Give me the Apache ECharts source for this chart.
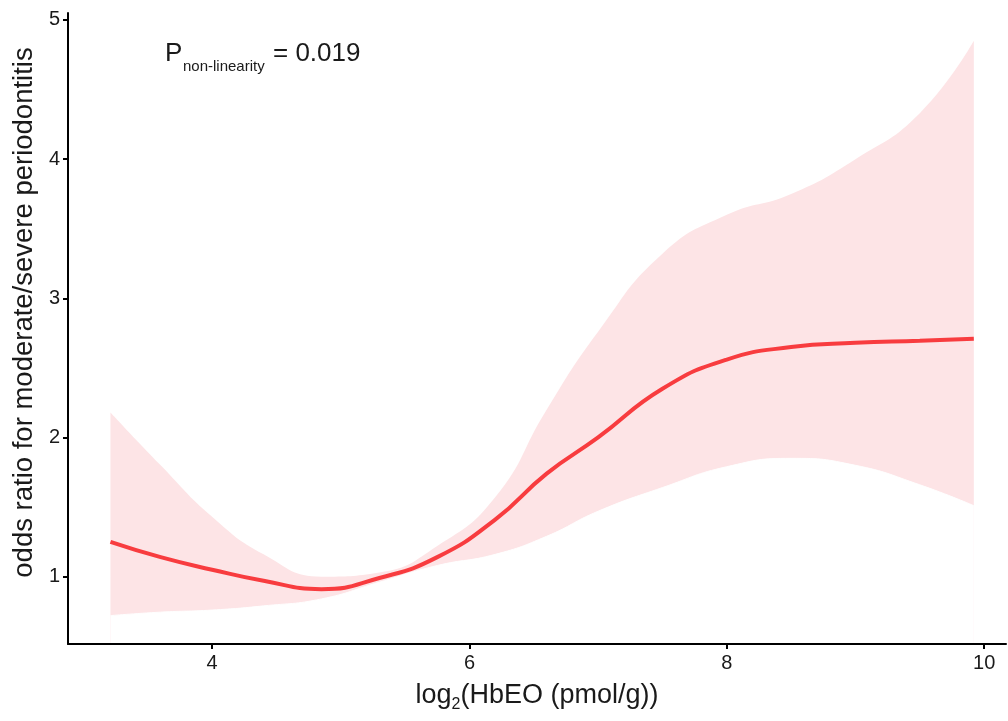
<!DOCTYPE html>
<html>
<head>
<meta charset="utf-8">
<script src="https://cdn.jsdelivr.net/npm/echarts@6/dist/echarts.min.js"></script>
<style>
    html, body { margin: 0; padding: 0; background: #fff; }
    #chart { width: 1008px; height: 721px; }
</style>
</head>
<body>
<div id="chart"></div>
<script>
// log2(HbEO) positions along the spline
const hbeo = [3.21, 3.6, 4.0, 4.4, 4.85, 5.3, 5.75, 6.2, 6.6, 7.0, 7.5, 8.0, 8.5, 9.0, 9.5, 9.92];
// fitted odds ratio and 95% CI
const oddsRatio = [1.25, 1.14, 1.05, 0.97, 0.91, 0.99, 1.14, 1.41, 1.74, 2.0, 2.35, 2.56, 2.65, 2.68, 2.695, 2.71];
const ciUpper = [2.18, 1.80, 1.43, 1.16, 1.0, 1.03, 1.22, 1.57, 2.20, 2.76, 3.32, 3.60, 3.75, 4.0, 4.33, 4.85];
const ciLower = [0.72, 0.745, 0.76, 0.79, 0.84, 0.96, 1.08, 1.16, 1.29, 1.47, 1.64, 1.79, 1.85, 1.80, 1.66, 1.51];
const xTicks = [4, 6, 8, 10];
const yTicks = [1, 2, 3, 4, 5];

const font = '"Liberation Sans", Arial, sans-serif';
const ink = '#1a1a1a';

const chart = echarts.init(document.getElementById('chart'));

const toPairs = (ys) => hbeo.map((x, i) => [x, ys[i]]);

const option = {
    animation: false,
    backgroundColor: '#fff',
    grid: {left: 68, right: 2, top: 13, bottom: 77},
    xAxis: {
        type: 'value',
        min: 2.88,
        max: 10.17,
        z: 10,
        name: '{a|log}{b|2}{a|(HbEO (pmol/g))}',
        nameLocation: 'middle',
        nameGap: 35,
        nameTextStyle: {
            rich: {
                a: {fontFamily: font, fontSize: 27, color: ink},
                b: {fontFamily: font, fontSize: 16, color: ink, padding: [18, 0, 0, 0]}
            }
        },
        splitLine: {show: false},
        axisLine: {lineStyle: {color: '#000', width: 2}},
        axisTick: {customValues: xTicks, length: 5, lineStyle: {color: '#000', width: 2}},
        axisLabel: {customValues: xTicks, margin: 9, fontFamily: font, fontSize: 20, color: ink}
    },
    yAxis: {
        type: 'value',
        min: 0.516,
        max: 5.05,
        z: 10,
        name: 'odds ratio for moderate/severe periodontitis',
        nameLocation: 'middle',
        nameGap: 30,
        nameTextStyle: {fontFamily: font, fontSize: 27.5, color: ink, padding: [0, 0, 0, 32]},
        splitLine: {show: false},
        axisLine: {lineStyle: {color: '#000', width: 2}},
        axisTick: {customValues: yTicks, length: 5, lineStyle: {color: '#000', width: 2}},
        axisLabel: {customValues: yTicks, margin: 8, fontFamily: font, fontSize: 20, color: ink}
    },
    graphic: [
        {type: 'text', left: 165, top: 41, z: 20, style: {text: 'P', font: '26px ' + font, fill: ink}},
        {type: 'text', left: 183, top: 59, z: 20, style: {text: 'non-linearity', font: '15px ' + font, fill: ink}},
        {type: 'text', left: 273, top: 41, z: 20, style: {text: '= 0.019', font: '26px ' + font, fill: ink}}
    ],
    series: [
        {
            // upper CI, filled pink down to the axis
            name: 'upper',
            type: 'line',
            smooth: 0.5,
            symbol: 'none',
            z: 2,
            lineStyle: {width: 0},
            areaStyle: {color: '#fde4e6', opacity: 1, origin: 'start'},
            data: toPairs(ciUpper)
        },
        {
            // lower CI, cut back out with white
            name: 'lower',
            type: 'line',
            smooth: 0.5,
            symbol: 'none',
            z: 3,
            lineStyle: {color: '#ffffff', width: 1},
            areaStyle: {color: '#ffffff', opacity: 1, origin: 'start'},
            data: toPairs(ciLower)
        },
        {
            name: 'fit',
            type: 'line',
            smooth: 0.5,
            symbol: 'none',
            z: 5,
            lineStyle: {color: '#f83c3f', width: 4},
            data: toPairs(oddsRatio)
        }
    ]
};
chart.setOption(option);
</script>
</body>
</html>
